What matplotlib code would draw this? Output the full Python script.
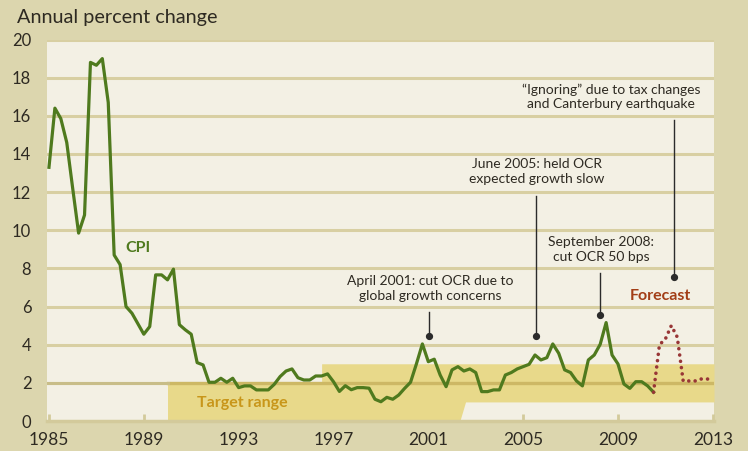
import matplotlib.pyplot as plt
import numpy as np

plt.rcParams['font.family'] = ['Lato', 'DejaVu Sans']

# quarterly CPI, annual percent change, starting 1985 Q1
cpi = [13.3, 16.4, 15.85, 14.6, 12.2, 9.85, 10.8, 18.8, 18.65, 19.0,
       16.7, 8.7, 8.2, 6.0, 5.65, 5.1, 4.55, 4.95, 7.66, 7.66,
       7.4, 7.96, 5.05, 4.78, 4.55, 3.06, 2.94, 2.03, 2.03, 2.24,
       2.03, 2.24, 1.75, 1.84, 1.84, 1.63, 1.63, 1.63, 1.92, 2.33,
       2.62, 2.73, 2.27, 2.15, 2.15, 2.36, 2.36, 2.47, 2.06, 1.55,
       1.85, 1.64, 1.75, 1.75, 1.72, 1.14, 1.01, 1.24, 1.14, 1.36,
       1.71, 2.03, 3.0, 4.04, 3.11, 3.24, 2.41, 1.8, 2.68, 2.85,
       2.62, 2.73, 2.54, 1.54, 1.54, 1.63, 1.63, 2.41, 2.54, 2.73,
       2.85, 2.97, 3.46, 3.2, 3.32, 4.04, 3.55, 2.68, 2.54, 2.1,
       1.84, 3.2, 3.46, 4.02, 5.16, 3.46, 2.99, 1.94, 1.71, 2.06,
       2.06, 1.84, 1.51]
# forecast, continuing quarterly from the last CPI point
forecast = [1.51, 4.0, 4.3, 5.0, 4.4, 2.1, 2.1, 2.1, 2.2, 2.2, 2.2]

# target range band (year, low, high)
target_years = [1990.0, 1996.5, 1996.5, 2002.33, 2002.57, 2013.05]
target_low = [0, 0, 0, 0, 1, 1]
target_high = [2, 2, 3, 3, 3, 3]

year_ticks = [1985, 1989, 1993, 1997, 2001, 2005, 2009, 2013]
y_ticks = [0, 2, 4, 6, 8, 10, 12, 14, 16, 18, 20]

# (label, year of leader line, line top, dot value, label x, label y)
notes = [
    ("April 2001: cut OCR due to\nglobal growth concerns", 2001.04, 5.74, 4.48, 2001.10, 6.95),
    ("June 2005: held OCR\nexpected growth slow", 2005.53, 11.77, 4.46, 2005.59, 13.07),
    ("September 2008:\ncut OCR 50 bps", 2008.25, 7.75, 5.56, 2008.28, 8.99),
    ("\u201cIgnoring\u201d due to tax changes\nand Canterbury earthquake", 2011.35, 15.8, 7.57, 2008.72, 17.0),
]

cpi_x = 1985 + 0.25 * np.arange(len(cpi))
fc_x = cpi_x[-1] + 0.25 * np.arange(len(forecast))

fig = plt.figure(figsize=(7.48, 4.51), dpi=100, facecolor='#DCD6AE')
ax = fig.add_axes([46.6 / 748, 30 / 451, (714 - 46.6) / 748, (421 - 39.5) / 451])
ax.set_facecolor('#F3F0E4')
ax.set_xlim(1984.9, 2013.05)
ax.set_ylim(0, 20)

for v in y_ticks[1:]:
    ax.axhline(v, color='#D8CFA2', lw=2.2, zorder=1)

ax.fill_between(target_years, target_low, target_high, color='#E8D98A', lw=0, zorder=2)
ax.axhline(2, xmin=(1990 - 1984.9) / 28.15, color='#CDB865', lw=2.4, zorder=3)
ax.axhline(2, xmax=(1990 - 1984.9) / 28.15, color='#C8BD88', lw=2.2, zorder=3)

ax.plot(cpi_x, cpi, color='#4F7A1E', lw=2.3, zorder=5, solid_joinstyle='round')
ax.plot(fc_x, forecast, color='#983636', lw=2.6, ls=(0, (0.01, 1.75)),
        dash_capstyle='round', zorder=5)

for label, lx, top, dot, tx, ty in notes:
    ax.plot([lx, lx], [top, dot], color='#2B2B2B', lw=1.0, zorder=6)
    ax.plot(lx, dot, 'o', color='#2B2B2B', ms=4.2, zorder=6)
    ax.text(tx, ty, label, ha='center', va='center', fontsize=10,
            color='#2E2A22', linespacing=1.25, zorder=7)

ax.text(1988.75, 9.08, "CPI", ha='center', va='center', fontsize=11.5,
        fontweight='bold', color='#4F7A1E', zorder=7)
ax.text(1993.17, 0.93, "Target range", ha='center', va='center', fontsize=11.5,
        fontweight='bold', color='#C8961A', zorder=7)
ax.text(2010.77, 6.56, "Forecast", ha='center', va='center', fontsize=11.5,
        fontweight='bold', color='#A23D16', zorder=7)

for s in ['top', 'right', 'left']:
    ax.spines[s].set_visible(False)
ax.spines['bottom'].set_color('#D3CA9B')
ax.spines['bottom'].set_linewidth(2.5)

ax.set_xticks(year_ticks)
ax.set_xticklabels([str(y) for y in year_ticks], fontsize=12.5, color='#2E2A22')
ax.tick_params(axis='x', direction='in', length=5, width=2, color='#D3CA9B', pad=8)
ax.set_yticks(y_ticks)
ax.set_yticklabels([str(v) for v in y_ticks], fontsize=12, color='#2E2A22')
ax.tick_params(axis='y', length=0, pad=11)

fig.text(17 / 748, 1 - 18 / 451, "Annual percent change", ha='left', va='center',
         fontsize=14.3, color='#2E2A22')

fig.savefig("out.png", dpi=100, facecolor=fig.get_facecolor())
